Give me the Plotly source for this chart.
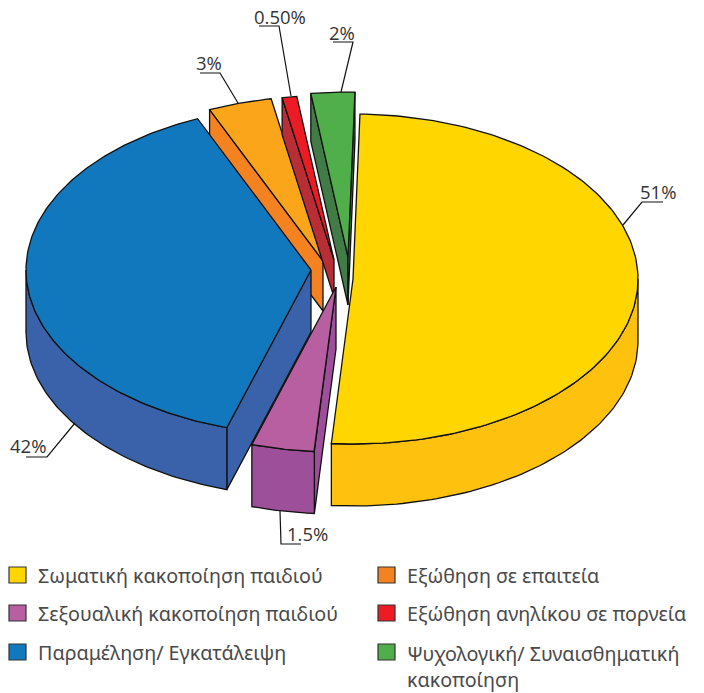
import numpy as np
import plotly.graph_objects as go

categories = ["Σωματική κακοποίηση παιδιού", "Σεξουαλική κακοποίηση παιδιού",
              "Παραμέληση/ Εγκατάλειψη", "Εξώθηση σε επαιτεία",
              "Εξώθηση ανηλίκου σε πορνεία", "Ψυχολογική/ Συναισθηματική<br>κακοποίηση"]
# slice sizes as they appear in the picture (percent of the turn)
drawn_share = [50.8, 3.56, 38.7, 3.6, 0.83, 2.47]
value_labels = ["51%", "1.5%", "42%", "3%", "0.50%", "2%"]
top_colors = ["#FFD600", "#B85FA2", "#1278BD", "#FBA61A", "#ED1C24", "#50AE4B"]
wall_colors = ["#FEC20E", "#9E4F9A", "#3A62AB", "#F58220", "#B92D37", "#417C46"]

# layout of the exploded 3D pie (pixels)
START = 1.4
A, B = 285, 165
centres = [(353, 279), (336, 287), (311, 270), (323, 261), (334, 260), (348, 257)]
depths = [62, 62, 62, 50, 37, 48]
draw_order = [3, 4, 5, 0, 2, 1]

sweep = np.array(drawn_share) / sum(drawn_share) * 360
ends = START + np.cumsum(sweep)
starts = ends - sweep


def pt(i, deg):
    t = np.radians(deg)
    cx, cy = centres[i]
    return cx + A * np.sin(t), cy - B * np.cos(t)


def poly(fig, x, y, color):
    fig.add_trace(go.Scatter(x=list(x) + [x[0]], y=list(y) + [y[0]], mode="lines", fill="toself",
                             fillcolor=color, line=dict(color="#111111", width=1.3),
                             hoverinfo="skip", showlegend=False))


def radial_wall(fig, i, deg):
    cx, cy = centres[i]
    ox, oy = pt(i, deg)
    d = depths[i]
    poly(fig, [cx, ox, ox, cx], [cy, oy, oy + d, cy + d], wall_colors[i])


fig = go.Figure()
for i in draw_order:
    s, e = starts[i], ends[i]
    d = depths[i]
    # radial cut faces that can be seen from the front
    if i in (3, 4, 5):
        radial_wall(fig, i, s)
    if i == 5:
        radial_wall(fig, i, e)
    if i in (1, 2):
        radial_wall(fig, i, s)
    # outer rim, front half only
    lo, hi = max(s, 90), min(e, 270)
    if hi > lo:
        arc = np.linspace(lo, hi, 80)
        ax, ay = pt(i, arc)
        poly(fig, np.r_[ax, ax[::-1]], np.r_[ay, ay[::-1] + d], wall_colors[i])
    # top face
    arc = np.linspace(s, e, 160)
    ax, ay = pt(i, arc)
    cx, cy = centres[i]
    poly(fig, np.r_[cx, ax], np.r_[cy, ay], top_colors[i])

shapes, annotations = [], []

# leader lines and value labels, same order as categories
leaders = [[(623, 225), (642, 202), (663, 202)],
           [(280, 511), (281, 544), (301, 544)],
           [(75, 423), (47, 457), (26, 457)],
           [(238, 103), (220, 73), (200, 73)],
           [(291, 96), (279, 26), (259, 26)],
           [(341, 92), (353, 42), (333, 42)]]
label_pos = [(658, 191), (307, 533), (28, 445), (209, 62), (280, 16), (342, 32)]
for pts, lab, (lx, ly) in zip(leaders, value_labels, label_pos):
    path = "M" + " L".join(f"{x},{y}" for x, y in pts)
    shapes.append(dict(type="path", path=path, xref="x", yref="y",
                       line=dict(color="#111111", width=1.2)))
    annotations.append(dict(x=lx, y=ly, xref="x", yref="y", text=lab, showarrow=False,
                            font=dict(family="Open Sans", size=18.5, color="#333333")))

# legend
swatch_xy = [(9, 567), (9, 605), (9, 644), (378, 567), (378, 605), (378, 644)]
for i, (sx, sy) in enumerate(swatch_xy):
    shapes.append(dict(type="rect", x0=sx, x1=sx + 17, y0=sy, y1=sy + 16, xref="x", yref="y",
                       fillcolor=wall_colors[i] if i == 3 else top_colors[i],
                       line=dict(color="#333333", width=1.2)))
    annotations.append(dict(x=sx + 27, y=sy + 8, xref="x", yref="y", text=categories[i],
                            showarrow=False, xanchor="left", yanchor="top" if i == 5 else "middle",
                            yshift=14 if i == 5 else 0, align="left",
                            font=dict(family="Noto Sans", size=19.7, color="#4A4A4A")))

fig.update_layout(width=704, height=693, margin=dict(l=0, r=0, t=0, b=0),
                  paper_bgcolor="white", plot_bgcolor="white", showlegend=False,
                  shapes=shapes, annotations=annotations,
                  xaxis=dict(range=[0, 704], visible=False, fixedrange=True),
                  yaxis=dict(range=[693, 0], visible=False, fixedrange=True))
fig.write_html("out.html", post_script="document.body.style.margin='0';document.body.style.overflow='hidden';",
               config={"displayModeBar": False})
